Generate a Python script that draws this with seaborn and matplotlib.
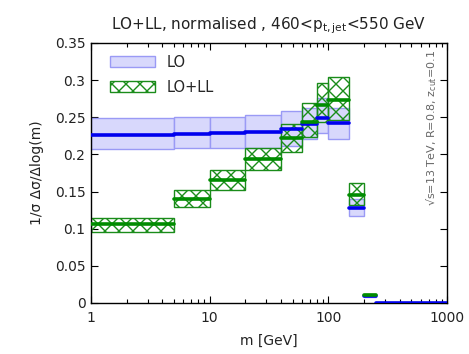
import numpy as np
import pandas as pd
import matplotlib
matplotlib.use("Agg")
import matplotlib.pyplot as plt
import seaborn as sns
from matplotlib.patches import Patch
from matplotlib.ticker import FixedLocator, FixedFormatter, LogLocator, NullFormatter

# ---- data ----
bin_edges = [1, 5, 10, 20, 40, 60, 80, 100, 150, 200, 250, 1000]
lo_central = [0.226, 0.2275, 0.2285, 0.230, 0.234, 0.241, 0.2495, 0.242, 0.128, 0.009, 0.0]
lo_low     = [0.207, 0.208, 0.2086, 0.209, 0.212, 0.2203, 0.2284, 0.2208, 0.117, 0.008, 0.0]
lo_high    = [0.249, 0.250, 0.251, 0.253, 0.2584, 0.262, 0.2755, 0.262, 0.140, 0.010, 0.0]
ll_central = [0.106, 0.1404, 0.1656, 0.1938, 0.2217, 0.244, 0.2665, 0.2733, 0.1454, 0.0110, np.nan]
ll_low     = [0.096, 0.129, 0.152, 0.179, 0.2037, 0.2239, 0.2432, 0.247, 0.132, 0.0102, np.nan]
ll_high    = [0.115, 0.152, 0.179, 0.208, 0.241, 0.2688, 0.2957, 0.3038, 0.162, 0.0118, np.nan]
series_names = ["LO", "LO+LL"]
x_ticks = [1, 10, 100, 1000]
x_tick_labels = ["1", "10", "100", "1000"]
y_ticks = [0, 0.05, 0.1, 0.15, 0.2, 0.25, 0.3, 0.35]
y_tick_labels = ["0", "0.05", "0.1", "0.15", "0.2", "0.25", "0.3", "0.35"]

# render at a lower dpi so the hatch cell matches the reference; scale point sizes back
DPI = 84
S = 100.0 / DPI

sns.set_theme(style="ticks")
plt.rcParams['font.family'] = ['DejaVu Sans']
plt.rcParams['hatch.linewidth'] = 1.0 * S

lo_fill = "#d8d8fc"
lo_edge = "#9a9af5"
lo_line = "#0000ee"
ll_col = "#1a8c1a"
ll_line = "#008c00"

fig = plt.figure(figsize=(469 / DPI, 354 / DPI), dpi=DPI)
ax = fig.add_axes([91/469, 1-303/354, (447-91)/469, (303-43)/354])

left = np.array(bin_edges[:-1], dtype=float)
right = np.array(bin_edges[1:], dtype=float)
widths = right - left

# LO uncertainty band
ax.bar(left, np.array(lo_high) - np.array(lo_low), width=widths, bottom=lo_low,
       align="edge", facecolor=lo_fill, edgecolor=lo_edge, linewidth=1.0 * S, zorder=1)
# LO+LL hatched band
ll_mask = ~np.isnan(np.array(ll_central))
ax.bar(left[ll_mask], (np.array(ll_high) - np.array(ll_low))[ll_mask], width=widths[ll_mask],
       bottom=np.array(ll_low)[ll_mask], align="edge", facecolor="none", edgecolor=ll_col,
       hatch="xx", linewidth=1.0 * S, zorder=2)

# central lines via seaborn
rows = []
for name, cen in [("LO", lo_central), ("LO+LL", ll_central)]:
    for i in range(len(left)):
        if np.isnan(cen[i]):
            continue
        rows.append(dict(series=name, bin=i, m=left[i], v=cen[i]))
        rows.append(dict(series=name, bin=i, m=right[i], v=cen[i]))
df = pd.DataFrame(rows)
df_ll = df[df.series == "LO+LL"]
df_lo = df[df.series == "LO"]
sns.lineplot(data=df_lo, x="m", y="v", units="bin", estimator=None, color=lo_line,
             linewidth=2.6 * S, ax=ax, zorder=3, legend=False)
sns.lineplot(data=df_ll, x="m", y="v", units="bin", estimator=None, color=ll_line,
             linewidth=2.6 * S, ax=ax, zorder=4, legend=False)

ax.set_xscale("log")
ax.set_xlim(1, 1000)
ax.set_ylim(0, 0.35)
ax.xaxis.set_major_locator(FixedLocator(x_ticks))
ax.xaxis.set_major_formatter(FixedFormatter(x_tick_labels))
ax.xaxis.set_minor_locator(LogLocator(base=10, subs=np.arange(2, 10)))
ax.xaxis.set_minor_formatter(NullFormatter())
ax.yaxis.set_major_locator(FixedLocator(y_ticks))
ax.yaxis.set_major_formatter(FixedFormatter(y_tick_labels))
ax.tick_params(which="both", direction="in", top=True, right=True, colors="black",
               labelsize=10 * S, labelcolor="#222222")
ax.tick_params(which="major", length=5 * S, width=0.8 * S)
ax.tick_params(which="minor", length=3 * S, width=0.8 * S)
for s in ax.spines.values():
    s.set_color("black")
    s.set_linewidth(1.0 * S)
ax.tick_params(axis="x", pad=6 * S)
ax.tick_params(axis="y", pad=4 * S)

ax.set_xlabel("m [GeV]", fontsize=10 * S, color="#222222", labelpad=6 * S)
ax.set_ylabel("1/σ Δσ/Δlog(m)", fontsize=10 * S, color="#222222", labelpad=8 * S)
ax.set_title("LO+LL, normalised , 460<p$_{\\mathregular{t,jet}}$<550 GeV", fontsize=11 * S,
             color="#222222", pad=10 * S)

ax.text(0.958, 0.673, "√s=13 TeV, R=0.8, z$_{\\mathregular{cut}}$=0.1", transform=ax.transAxes,
        rotation=90, ha="center", va="center", fontsize=8 * S, color="#666666")

handles = [Patch(facecolor=lo_fill, edgecolor=lo_edge, linewidth=1.0 * S, label=series_names[0]),
           Patch(facecolor="white", edgecolor=ll_col, hatch="xx", linewidth=1.0 * S, label=series_names[1])]
ax.legend(handles=handles, loc="upper left", bbox_to_anchor=(0.02, 1.0), frameon=False,
          fontsize=10.5 * S, handlelength=3.1, handleheight=0.8, labelspacing=0.7,
          handletextpad=0.8, borderaxespad=0.4)

fig.savefig("out.png", dpi=DPI)
